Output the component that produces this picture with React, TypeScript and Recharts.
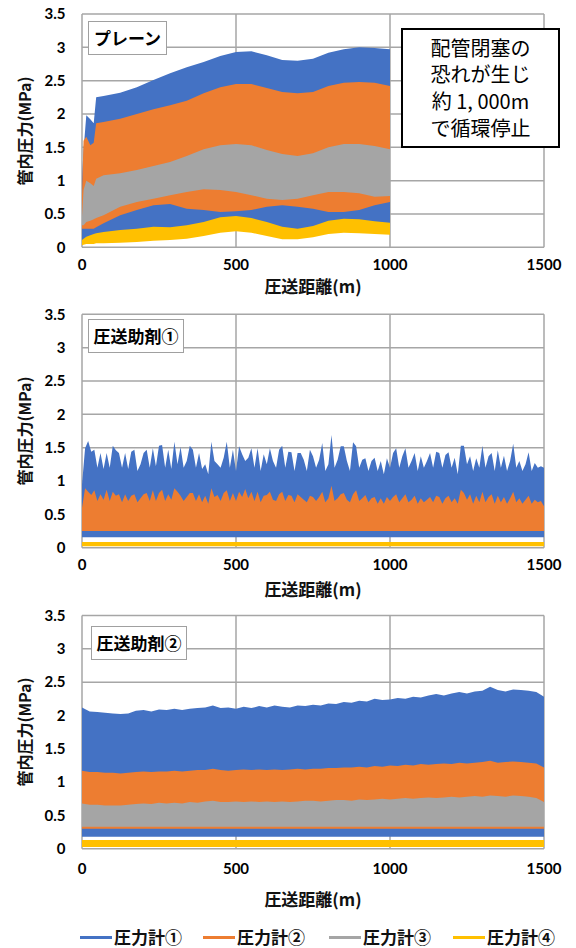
import React from 'react';
import { ComposedChart, Area, XAxis, YAxis, CartesianGrid } from 'recharts';

const BLUE = '#4472C4';
const ORANGE = '#ED7D31';
const GRAY = '#A5A5A5';
const YELLOW = '#FFC000';

const xTicks = [0, 500, 1000, 1500];
const yTicks = [0, 0.5, 1, 1.5, 2, 2.5, 3, 3.5];
const seriesNames = ['圧力計①', '圧力計②', '圧力計③', '圧力計④'];
const seriesColors = [BLUE, ORANGE, GRAY, YELLOW];
const panelTitles = ['プレーン', '圧送助剤①', '圧送助剤②'];
const noteLines = ['配管閉塞の', '恐れが生じ', '約 1, 000m', 'で循環停止'];
const xTitle = '圧送距離(m)';
const yTitle = '管内圧力(MPa)';

// ---------- Panel 1 (プレーン): envelope (min / max) of each gauge ----------
const dist1 = [0, 5, 14, 27, 38, 46, 70, 124, 178, 232, 286, 340, 395, 449, 500, 550, 600, 650, 700, 750, 800, 850, 900, 950, 1000];
const blueHi1 = [1.0, 1.46, 1.98, 1.92, 1.86, 2.25, 2.27, 2.32, 2.4, 2.51, 2.61, 2.7, 2.78, 2.87, 2.93, 2.94, 2.88, 2.81, 2.8, 2.83, 2.92, 2.97, 3.0, 2.99, 2.97];
const blueLo1 = [0.05, 0.05, 0.07, 0.08, 0.08, 0.09, 0.09, 0.1, 0.11, 0.13, 0.14, 0.16, 0.2, 0.25, 0.27, 0.25, 0.2, 0.15, 0.15, 0.18, 0.23, 0.25, 0.24, 0.23, 0.22];
const orangeHi1 = [0.8, 1.6, 1.66, 1.53, 1.57, 1.86, 1.88, 1.93, 2.0, 2.07, 2.13, 2.2, 2.31, 2.4, 2.45, 2.45, 2.39, 2.33, 2.31, 2.33, 2.42, 2.47, 2.48, 2.47, 2.42];
const orangeLo1 = [0.28, 0.28, 0.28, 0.28, 0.28, 0.3, 0.36, 0.48, 0.56, 0.63, 0.65, 0.58, 0.56, 0.53, 0.54, 0.56, 0.61, 0.63, 0.61, 0.58, 0.53, 0.53, 0.56, 0.63, 0.68];
const grayHi1 = [0.46, 0.86, 1.0, 0.96, 0.92, 1.03, 1.08, 1.11, 1.16, 1.22, 1.28, 1.37, 1.47, 1.53, 1.55, 1.53, 1.46, 1.4, 1.37, 1.41, 1.5, 1.55, 1.55, 1.52, 1.47];
const grayLo1 = [0.33, 0.33, 0.38, 0.4, 0.42, 0.44, 0.48, 0.61, 0.68, 0.73, 0.78, 0.83, 0.87, 0.86, 0.83, 0.78, 0.73, 0.71, 0.73, 0.78, 0.83, 0.83, 0.81, 0.76, 0.77];
const yellowHi1 = [0.11, 0.13, 0.16, 0.18, 0.2, 0.21, 0.23, 0.26, 0.28, 0.31, 0.3, 0.33, 0.38, 0.45, 0.47, 0.44, 0.38, 0.31, 0.28, 0.32, 0.4, 0.43, 0.42, 0.39, 0.37];
const yellowLo1 = [0.03, 0.04, 0.05, 0.05, 0.05, 0.06, 0.06, 0.07, 0.08, 0.1, 0.11, 0.13, 0.17, 0.22, 0.24, 0.22, 0.17, 0.12, 0.12, 0.15, 0.2, 0.22, 0.21, 0.2, 0.19];

// ---------- Panel 2 (圧送助剤①) ----------
const dist2 = [0, 10, 20, 30, 40, 50, 60, 70, 80, 90, 100, 110, 120, 130, 140, 150, 160, 170, 180, 190, 200, 210, 220, 230, 240, 250, 260, 270, 280, 290, 300, 310, 320, 330, 340, 350, 360, 370, 380, 390, 400, 410, 420, 430, 440, 450, 460, 470, 480, 490, 500, 510, 520, 530, 540, 550, 560, 570, 580, 590, 600, 610, 620, 630, 640, 650, 660, 670, 680, 690, 700, 710, 720, 730, 740, 750, 760, 770, 780, 790, 800, 810, 820, 830, 840, 850, 860, 870, 880, 890, 900, 910, 920, 930, 940, 950, 960, 970, 980, 990, 1000, 1010, 1020, 1030, 1040, 1050, 1060, 1070, 1080, 1090, 1100, 1110, 1120, 1130, 1140, 1150, 1160, 1170, 1180, 1190, 1200, 1210, 1220, 1230, 1240, 1250, 1260, 1270, 1280, 1290, 1300, 1310, 1320, 1330, 1340, 1350, 1360, 1370, 1380, 1390, 1400, 1410, 1420, 1430, 1440, 1450, 1460, 1470, 1480, 1490, 1500];
const blueHi2 = [0.95, 1.49, 1.6, 1.44, 1.47, 1.2, 1.42, 1.18, 1.42, 1.2, 1.53, 1.46, 1.42, 1.2, 1.42, 1.18, 1.44, 1.47, 1.15, 1.25, 1.42, 1.47, 1.2, 1.49, 1.22, 1.53, 1.54, 1.2, 1.47, 1.18, 1.59, 1.25, 1.51, 1.2, 1.3, 1.53, 1.47, 1.2, 1.42, 1.18, 1.25, 1.1, 1.59, 1.3, 1.25, 1.2, 1.35, 1.59, 1.2, 1.47, 1.15, 1.52, 1.4, 1.3, 1.35, 1.49, 1.2, 1.49, 1.15, 1.4, 1.25, 1.49, 1.3, 1.2, 1.47, 1.53, 1.2, 1.44, 1.43, 1.15, 1.42, 1.42, 1.32, 1.15, 1.47, 1.37, 1.2, 1.32, 1.57, 1.15, 1.25, 1.69, 1.2, 1.32, 1.52, 1.52, 1.3, 1.15, 1.58, 1.52, 1.2, 1.32, 1.34, 1.15, 1.3, 1.35, 1.15, 1.3, 1.1, 1.34, 1.2, 1.42, 1.49, 1.2, 1.37, 1.49, 1.2, 1.3, 1.42, 1.15, 1.37, 1.2, 1.3, 1.42, 1.2, 1.44, 1.42, 1.2, 1.39, 1.43, 1.2, 1.35, 1.1, 1.53, 1.53, 1.25, 1.37, 1.15, 1.34, 1.2, 1.53, 1.2, 1.37, 1.42, 1.15, 1.46, 1.2, 1.38, 1.15, 1.3, 1.56, 1.2, 1.3, 1.15, 1.25, 1.43, 1.15, 1.27, 1.2, 1.22, 1.2];
const orangeHi2 = [0.6, 0.89, 0.84, 0.79, 0.86, 0.7, 0.8, 0.72, 0.87, 0.7, 0.84, 0.78, 0.8, 0.68, 0.8, 0.7, 0.78, 0.8, 0.68, 0.74, 0.8, 0.82, 0.7, 0.86, 0.7, 0.82, 0.87, 0.7, 0.8, 0.72, 0.89, 0.84, 0.78, 0.7, 0.76, 0.82, 0.82, 0.7, 0.8, 0.68, 0.78, 0.66, 0.89, 0.76, 0.79, 0.7, 0.82, 0.86, 0.7, 0.82, 0.7, 0.84, 0.76, 0.88, 0.74, 0.84, 0.7, 0.84, 0.68, 0.78, 0.79, 0.84, 0.72, 0.7, 0.8, 0.84, 0.7, 0.79, 0.78, 0.68, 0.8, 0.76, 0.72, 0.68, 0.78, 0.76, 0.7, 0.76, 0.84, 0.68, 0.74, 0.93, 0.7, 0.74, 0.8, 0.82, 0.72, 0.68, 0.8, 0.86, 0.7, 0.74, 0.79, 0.68, 0.74, 0.76, 0.66, 0.74, 0.66, 0.76, 0.7, 0.76, 0.8, 0.68, 0.74, 0.8, 0.68, 0.72, 0.78, 0.66, 0.74, 0.68, 0.72, 0.76, 0.68, 0.78, 0.76, 0.66, 0.74, 0.78, 0.68, 0.74, 0.66, 0.87, 0.82, 0.72, 0.8, 0.66, 0.78, 0.68, 0.84, 0.68, 0.76, 0.8, 0.66, 0.78, 0.68, 0.76, 0.66, 0.74, 0.84, 0.68, 0.74, 0.66, 0.72, 0.78, 0.66, 0.72, 0.68, 0.7, 0.62];
const blueLo2 = 0.155;
const orangeLo2 = 0.25;
const yellowHi2 = 0.085;
const yellowLo2 = 0.02;

// ---------- Panel 3 (圧送助剤②) ----------
const dist3 = [0, 25, 50, 75, 100, 125, 150, 175, 200, 225, 250, 275, 300, 325, 350, 375, 400, 425, 450, 475, 500, 525, 550, 575, 600, 625, 650, 675, 700, 725, 750, 775, 800, 825, 850, 875, 900, 925, 950, 975, 1000, 1025, 1050, 1075, 1100, 1125, 1150, 1175, 1200, 1225, 1250, 1275, 1300, 1325, 1350, 1375, 1400, 1425, 1450, 1475, 1500];
const blueHi3 = [2.12, 2.06, 2.05, 2.04, 2.03, 2.02, 2.03, 2.07, 2.08, 2.06, 2.09, 2.08, 2.1, 2.08, 2.1, 2.11, 2.12, 2.15, 2.11, 2.12, 2.1, 2.13, 2.11, 2.14, 2.12, 2.15, 2.13, 2.12, 2.15, 2.14, 2.16, 2.15, 2.18, 2.17, 2.2, 2.19, 2.22, 2.21, 2.25, 2.23, 2.24, 2.26, 2.25, 2.28, 2.27, 2.3, 2.32, 2.3, 2.33, 2.35, 2.33, 2.36, 2.37, 2.43, 2.38, 2.36, 2.39, 2.38, 2.37, 2.35, 2.28];
const orangeHi3 = [1.17, 1.15, 1.15, 1.14, 1.14, 1.13, 1.14, 1.15, 1.16, 1.15, 1.16, 1.16, 1.17, 1.16, 1.17, 1.18, 1.18, 1.2, 1.18, 1.17, 1.18, 1.19, 1.18, 1.19, 1.18, 1.19, 1.18, 1.19, 1.2, 1.19, 1.2, 1.2, 1.21, 1.21, 1.22, 1.22, 1.23, 1.22, 1.24, 1.23, 1.25, 1.24, 1.26, 1.25, 1.27, 1.26, 1.27, 1.28, 1.27, 1.29, 1.28, 1.29, 1.3, 1.32, 1.29, 1.3, 1.31, 1.3, 1.29, 1.28, 1.22];
const grayHi3 = [0.68, 0.66, 0.66, 0.65, 0.65, 0.65, 0.66, 0.67, 0.68, 0.67, 0.69, 0.68, 0.69, 0.68, 0.7, 0.69, 0.71, 0.72, 0.7, 0.7, 0.71, 0.7, 0.71, 0.7, 0.71, 0.7, 0.71, 0.7, 0.71, 0.72, 0.72, 0.71, 0.72, 0.73, 0.73, 0.72, 0.74, 0.73, 0.74, 0.75, 0.74, 0.75, 0.76, 0.75, 0.76, 0.77, 0.76, 0.77, 0.78, 0.77, 0.78, 0.79, 0.78, 0.8, 0.79, 0.78, 0.8, 0.79, 0.78, 0.76, 0.7];
const blueLo3 = 0.18;
const orangeLo3 = 0.3;
const grayLo3 = 0.33;
const yellowHi3 = 0.13;
const yellowLo3 = 0.025;

const data1 = dist1.map((d, i) => ({
  d,
  b: [blueLo1[i], blueHi1[i]],
  o: [orangeLo1[i], orangeHi1[i]],
  g: [grayLo1[i], grayHi1[i]],
  y: [yellowLo1[i], yellowHi1[i]],
}));
const data2 = dist2.map((d, i) => ({
  d,
  b: [blueLo2, blueHi2[i]],
  o: [orangeLo2, orangeHi2[i]],
  y: [yellowLo2, yellowHi2],
}));
const data3 = dist3.map((d, i) => ({
  d,
  b: [blueLo3, blueHi3[i]],
  o: [orangeLo3, orangeHi3[i]],
  g: [grayLo3, grayHi3[i]],
  y: [yellowLo3, yellowHi3],
}));

const JP = '"Noto Sans CJK JP", "Noto Sans", sans-serif';
const NUM = 'Lato, "Liberation Sans", sans-serif';

const tickStyle = { fontFamily: NUM, fontWeight: 700, fontSize: 15, fill: '#000' };

const LEG_X = [80, 203, 329, 453];

type PanelProps = {
  top: number;
  height: number;
  mt: number;
  mb: number;
  data: any[];
  keys: string[];
  tickGap: number;
};

const keyColor: Record<string, string> = { b: BLUE, o: ORANGE, g: GRAY, y: YELLOW };

function Panel({ top, height, mt, mb, data, keys, tickGap }: PanelProps) {
  return (
    <div style={{ position: 'absolute', left: 0, top }}>
      <ComposedChart width={576} height={height} data={data} margin={{ top: mt, right: 32, bottom: mb, left: 0 }}>
        <CartesianGrid stroke="#A6A6A6" strokeWidth={1.5} />
        <XAxis
          dataKey="d"
          type="number"
          domain={[0, 1500]}
          ticks={xTicks}
          interval={0}
          axisLine={false}
          tickLine={false}
          tickSize={0}
          tickMargin={tickGap}
          height={30}
          tick={tickStyle}
        />
        <YAxis
          type="number"
          domain={[0, 3.5]}
          ticks={yTicks}
          interval={0}
          width={82}
          axisLine={false}
          tickLine={false}
          tickSize={0}
          tickMargin={16.5}
          tick={tickStyle}
        />
        {keys.map((k) => (
          <Area
            key={k}
            dataKey={k}
            type="linear"
            stroke="none"
            fill={keyColor[k]}
            fillOpacity={1}
            dot={false}
            activeDot={false}
            isAnimationActive={false}
          />
        ))}
      </ComposedChart>
    </div>
  );
}

const boxStyle = (left: number, top: number, width: number, height: number): React.CSSProperties => ({
  position: 'absolute',
  left,
  top,
  width,
  height,
  boxSizing: 'border-box',
  border: '1.5px solid #A0A0A0',
  background: '#fff',
  display: 'flex',
  alignItems: 'center',
  justifyContent: 'center',
  fontFamily: JP,
  fontWeight: 700,
  fontSize: 17,
  color: '#000',
  whiteSpace: 'nowrap',
});

const xTitleStyle = (cy: number): React.CSSProperties => ({
  position: 'absolute',
  left: 313,
  top: cy,
  transform: 'translate(-50%, -50%)',
  fontFamily: JP,
  fontWeight: 700,
  fontSize: 17,
  color: '#111',
  whiteSpace: 'nowrap',
  lineHeight: 1,
});

const yTitleStyle = (cy: number): React.CSSProperties => ({
  position: 'absolute',
  left: 24,
  top: cy,
  transform: 'translate(-50%, -50%) rotate(-90deg)',
  fontFamily: JP,
  fontWeight: 700,
  fontSize: 16,
  color: '#111',
  whiteSpace: 'nowrap',
  lineHeight: 1,
});

export default function App() {
  return (
    <div style={{ position: 'absolute', left: 0, top: 0, width: 576, height: 948, background: '#fff' }}>
      <Panel top={0} height={300} mt={14} mb={22.7} data={data1} keys={['b', 'o', 'g', 'y']} tickGap={12.5} />
      <Panel top={300} height={300} mt={14.3} mb={22.3} data={data2} keys={['b', 'o', 'y']} tickGap={12} />
      <Panel top={600} height={320} mt={15.5} mb={41.3} data={data3} keys={['b', 'o', 'g', 'y']} tickGap={14.5} />

      <div style={xTitleStyle(285)}>{xTitle}</div>
      <div style={xTitleStyle(588)}>{xTitle}</div>
      <div style={xTitleStyle(898)}>{xTitle}</div>

      <div style={yTitleStyle(131)}>{yTitle}</div>
      <div style={yTitleStyle(431)}>{yTitle}</div>
      <div style={yTitleStyle(732)}>{yTitle}</div>

      <div style={boxStyle(88, 21, 79, 33.5)}>{panelTitles[0]}</div>
      <div style={boxStyle(88, 319, 96, 33.5)}>{panelTitles[1]}</div>
      <div style={boxStyle(91, 626, 96, 33.5)}>{panelTitles[2]}</div>

      {seriesNames.map((n, i) => (
        <div
          key={n}
          style={{
            position: 'absolute',
            left: LEG_X[i],
            top: 927,
            width: 112,
            height: 20,
            display: 'flex',
            alignItems: 'center',
          }}
        >
          <div style={{ width: 32, height: 3, background: seriesColors[i], marginRight: 2, flex: 'none' }} />
          <span style={{ fontFamily: JP, fontWeight: 700, fontSize: 17, lineHeight: '20px', color: '#111', whiteSpace: 'nowrap' }}>{n}</span>
        </div>
      ))}

      <div
        style={{
          position: 'absolute',
          left: 401,
          top: 28,
          width: 159,
          height: 120,
          boxSizing: 'border-box',
          border: '2px solid #000',
          background: '#fff',
          display: 'flex',
          flexDirection: 'column',
          alignItems: 'center',
          justifyContent: 'center',
          fontFamily: JP,
          fontSize: 20,
          lineHeight: '26.7px',
          color: '#000',
        }}
      >
        {noteLines.map((l) => (
          <div key={l} style={{ whiteSpace: 'pre' }}>{l}</div>
        ))}
      </div>
    </div>
  );
}
